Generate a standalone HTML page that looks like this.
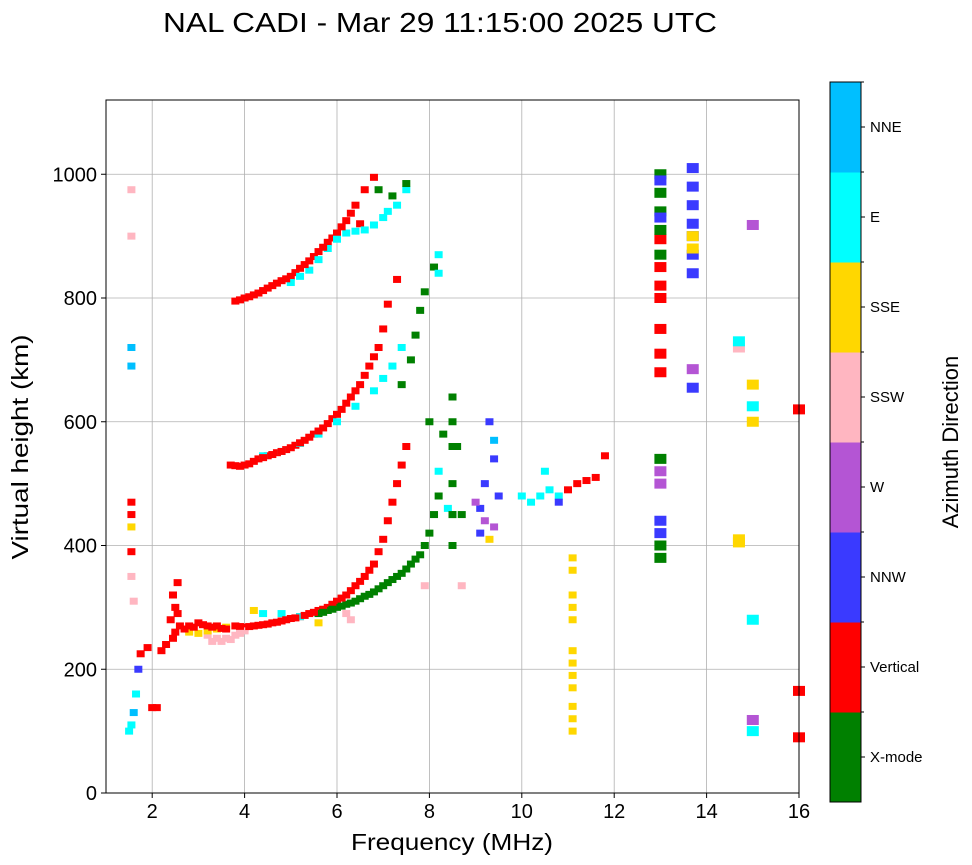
<!DOCTYPE html>
<html><head><meta charset="utf-8"><style>
body{margin:0;background:#fff;font-family:"Liberation Sans",sans-serif}
svg{display:block}
</style></head><body>
<svg id="chart" width="972" height="865" xmlns="http://www.w3.org/2000/svg">
<text x="440" y="32" font-size="28" text-anchor="middle" textLength="554" lengthAdjust="spacingAndGlyphs">NAL CADI - Mar 29 11:15:00 2025 UTC</text>
<g id="grid"></g>
<g id="marks"></g>
<rect x="106" y="100" width="693" height="693" fill="none" stroke="#000" stroke-width="1"/>
<g id="axes"></g>
<text x="452" y="850" font-size="23" text-anchor="middle" textLength="202" lengthAdjust="spacingAndGlyphs">Frequency (MHz)</text>
<text transform="translate(28,447) rotate(-90)" font-size="23" text-anchor="middle" textLength="225" lengthAdjust="spacingAndGlyphs">Virtual height (km)</text>
<g id="cbar"></g>
<text transform="translate(958,442) rotate(-90)" font-size="22" text-anchor="middle">Azimuth Direction</text>
</svg>
<script>
const dirLabels=["X-mode","Vertical","NNW","W","SSW","SSE","E","NNE"];
const dirColors=["#008000","#ff0000","#3a3aff","#b455d4","#ffb6c1","#ffd700","#00ffff","#00bfff"];
const xTicks=[2,4,6,8,10,12,14,16];
const yTicks=[0,200,400,600,800,1000];
// points: frequency (MHz), virtual height (km), direction index
const freqs=[
1.5,1.55,1.6,1.65,1.7,1.75,1.9,2.0,2.1,2.2,2.3,2.4,2.45,2.55,1.6,1.55,1.55,1.55,1.55,1.55,1.55,1.55,1.55,1.55,
3.8,4.0,4.2,4.4,4.6,4.8,5.0,5.2,5.4,5.6,5.8,6.0,6.2,6.4,6.6,6.8,6.9,7.0,7.1,7.2,7.3,7.4,7.5,
5.6,5.8,6.0,6.2,6.4,6.6,6.8,7.0,7.2,7.4,7.6,7.8,7.9,8.0,8.1,8.2,
3.2,3.4,3.6,3.8,4.0,2.8,3.0,3.2,3.4,3.6,4.2,5.6,2.5,2.5,2.6,2.8,3.0,3.2,3.4,3.6,4.4,4.8,5.2,
3.7,3.9,4.1,4.3,4.5,4.7,4.9,5.1,5.3,5.5,5.7,5.9,6.1,6.3,6.5,6.7,6.9,7.0,7.1,7.3,
4.4,4.8,5.2,5.6,6.0,6.4,6.8,7.0,7.2,7.4,7.4,7.6,7.7,7.8,7.9,8.1,8.2,8.2,
3.8,4.0,4.2,4.4,4.6,4.8,5.0,5.2,5.4,5.6,5.8,6.0,6.2,6.4,6.6,6.8,6.5,5.0,5.4,5.8,6.2,6.6,7.0,7.3,7.5,7.2,7.5,6.9,
8.5,8.5,8.5,8.5,8.5,8.5,8.2,8.4,8.0,8.3,8.6,8.5,8.7,7.9,8.7,6.3,6.2,
9.1,9.1,9.2,9.3,9.4,9.5,9.2,9.0,9.4,9.3,9.4,
10.0,10.2,10.4,10.6,10.8,10.5,11.0,11.2,11.4,11.6,11.8,10.8,
11.1,11.1,11.1,11.1,11.1,11.1,11.1,11.1,11.1,11.1,11.1,11.1,
13.0,13.0,13.0,13.0,13.0,13.0,13.0,13.0,13.0,13.0,13.0,13.0,13.0,13.0,13.0,13.0,13.0,13.0,13.0,13.0,13.0,
13.7,13.7,13.7,13.7,13.7,13.7,13.7,13.7,13.7,13.7,13.7,
14.7,14.7,14.7,14.7,15.0,15.0,15.0,15.0,15.0,15.0,15.0,16.0,16.0,16.0,
3.9,4.1,4.3,4.5,4.7,4.9,5.1,5.3,5.5,5.7,5.9,6.1,6.3,6.5,6.7,
5.7,5.9,6.1,6.3,6.5,6.7,6.9,7.1,7.3,7.5,7.7,
3.8,4.0,4.2,4.4,4.6,4.8,5.0,5.2,5.4,5.6,5.8,6.0,6.2,6.4,6.6,6.8,
3.9,4.1,4.3,4.5,4.7,4.9,5.1,5.3,5.5,5.7,5.9,6.1,6.3,
5.2,5.6,6.0,6.4,6.8,7.1,
2.45,2.55,2.7,2.9,3.1,3.3,3.5,3.3,3.5,3.7,3.9
];
const heights=[
100,110,130,160,200,225,235,138,138,230,240,280,320,340,310,350,430,470,450,390,975,900,720,690,
270,268,270,272,275,278,282,285,290,295,300,310,320,335,350,370,390,410,440,470,500,530,560,
290,295,300,305,310,318,325,335,345,355,370,385,400,420,450,480,
255,250,250,255,262,260,258,262,265,268,295,275,300,260,270,270,275,270,270,265,290,290,285,
530,528,532,540,545,550,555,562,570,580,590,605,620,640,660,690,720,750,790,830,
545,552,565,580,600,625,650,670,690,720,660,700,740,780,810,850,870,840,
795,800,805,812,820,828,835,848,860,875,890,905,925,950,975,995,920,825,845,880,905,910,930,950,975,965,985,975,
400,450,500,560,600,640,520,460,600,580,560,450,450,335,335,280,290,
420,460,500,600,540,480,440,470,430,410,570,
480,470,480,490,480,520,490,500,505,510,545,470,
100,120,140,170,190,210,230,280,300,320,360,380,
680,710,750,800,820,850,895,870,910,970,1000,940,990,930,380,400,540,500,520,440,420,
840,870,900,920,950,980,1010,880,900,655,685,
405,410,720,730,918,600,625,660,280,100,118,620,165,90,
269,269,271,273,276,280,283,287,292,297,305,315,327,342,360,
292,297,302,307,314,321,330,340,350,362,378,
529,530,536,542,547,552,558,566,575,585,597,612,630,650,675,705,
797,802,808,816,824,831,841,854,867,882,897,915,937,
835,862,895,908,918,940,
250,290,265,268,272,268,266,245,245,248,258
];
const dirs=[
6,6,7,6,2,1,1,1,1,1,1,1,1,1,4,4,5,1,1,1,4,4,7,7,
1,1,1,1,1,1,1,1,1,1,1,1,1,1,1,1,1,1,1,1,1,1,1,
0,0,0,0,0,0,0,0,0,0,0,0,0,0,0,0,
4,4,4,4,4,5,5,5,5,5,5,5,1,1,1,1,1,1,1,1,6,6,6,
1,1,1,1,1,1,1,1,1,1,1,1,1,1,1,1,1,1,1,1,
6,6,6,6,6,6,6,6,6,6,0,0,0,0,0,0,6,6,
1,1,1,1,1,1,1,1,1,1,1,1,1,1,1,1,1,6,6,6,6,6,6,6,6,0,0,0,
0,0,0,0,0,0,6,6,0,0,0,0,0,4,4,4,4,
2,2,2,2,2,2,3,3,3,5,7,
6,6,6,6,6,6,1,1,1,1,1,2,
5,5,5,5,5,5,5,5,5,5,5,5,
1,1,1,1,1,1,1,0,0,0,0,0,2,2,0,0,0,3,3,2,2,
2,2,2,2,2,2,2,5,5,2,3,
5,5,4,6,3,5,6,5,6,6,3,1,1,1,
1,1,1,1,1,1,1,1,1,1,1,1,1,1,1,
0,0,0,0,0,0,0,0,0,0,0,
1,1,1,1,1,1,1,1,1,1,1,1,1,1,1,1,
1,1,1,1,1,1,1,1,1,1,1,1,1,
6,6,6,6,6,6,
1,1,1,1,1,1,1,4,4,4,4
];
const NS="http://www.w3.org/2000/svg";
const X0=106,X1=799,Y0=793,Y1=100;
const xs=f=>X0+(f-1)/(16-1)*(X1-X0);
const ys=h=>Y0-h/1120*(Y0-Y1);
function mk(tag,attrs,parent){const e=document.createElementNS(NS,tag);for(const k in attrs)e.setAttribute(k,attrs[k]);parent.appendChild(e);return e;}
const grid=document.getElementById('grid'),axes=document.getElementById('axes'),marks=document.getElementById('marks'),cbar=document.getElementById('cbar');
xTicks.forEach(t=>{const x=xs(t);
 const g=mk('line',{x1:x,x2:x,y1:Y1,y2:Y0,stroke:'#b0b0b0','stroke-width':0.8},grid);
 
 
 mk('line',{x1:x,x2:x,y1:Y0,y2:Y0+5,stroke:'#000'},axes);
 const tx=mk('text',{x:x,y:Y0+25,'font-size':20,'text-anchor':'middle'},axes);tx.textContent=t;
 
 
});
yTicks.forEach(t=>{const y=ys(t);
 const g=mk('line',{x1:X0,x2:X1,y1:y,y2:y,stroke:'#b0b0b0','stroke-width':0.8},grid);
 
 
 mk('line',{x1:X0-5,x2:X0,y1:y,y2:y,stroke:'#000'},axes);
 const tx=mk('text',{x:X0-9,y:y+7,'font-size':20,'text-anchor':'end'},axes);tx.textContent=t;
 
 
});
freqs.forEach((f,i)=>{
 const wide=f>12.5;
 const w=wide?12:8,h=wide?10:7;
 const r=mk('rect',{x:xs(f)-w/2,y:ys(heights[i])-h/2,width:w,height:h,fill:dirColors[dirs[i]]},marks);
 
 
});
const CX=830,CW=31,CT=82,CB=802,seg=(CB-CT)/dirLabels.length;
dirLabels.forEach((lab,i)=>{
 const y=CB-(i+1)*seg;
 const r=mk('rect',{x:CX,y:y,width:CW,height:seg+0.5,fill:dirColors[i]},cbar);
 
 
 mk('line',{x1:CX+CW,x2:CX+CW+4,y1:y+seg/2,y2:y+seg/2,stroke:'#000'},cbar);
 mk('line',{x1:CX+CW,x2:CX+CW+3,y1:y,y2:y,stroke:'#000'},cbar);
 const t=mk('text',{x:CX+CW+9,y:y+seg/2+5,'font-size':15},cbar);t.textContent=lab;
 
 
});
mk('rect',{x:CX,y:CT,width:CW,height:CB-CT,fill:'none',stroke:'#000'},cbar);
</script>
</body></html>
